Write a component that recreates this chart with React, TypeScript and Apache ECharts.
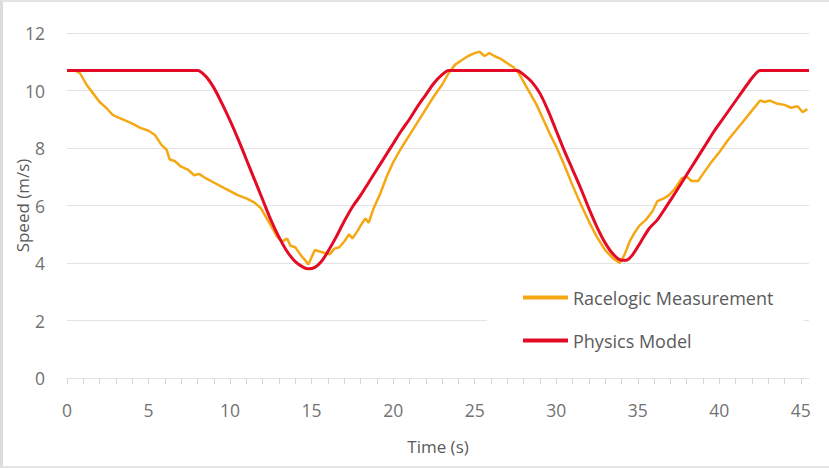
import React, { useEffect, useRef } from "react";
import * as echarts from "echarts";

const seriesNames = ["Racelogic Measurement", "Physics Model"];
const seriesColors = ["#F4A814", "#E30B25"];

const yTicks = [0, 2, 4, 6, 8, 10, 12];
const xTickLabels = [0, 5, 10, 15, 20, 25, 30, 35, 40, 45];

// [time (s), speed (m/s)]
const measurement: [number, number][] = [
  [0, 10.7], [0.5, 10.7], [0.8, 10.6], [1.2, 10.2], [1.6, 9.9], [2.0, 9.6], [2.4, 9.4],
  [2.8, 9.15], [3.2, 9.05], [3.6, 8.95], [4.0, 8.85], [4.5, 8.7], [5.0, 8.6], [5.4, 8.45],
  [5.8, 8.1], [6.1, 7.95], [6.3, 7.6], [6.6, 7.55], [7.0, 7.35], [7.4, 7.25], [7.8, 7.05],
  [8.1, 7.1], [8.5, 6.95], [9.0, 6.8], [9.5, 6.65], [10.0, 6.5], [10.5, 6.35], [11.0, 6.25],
  [11.5, 6.1], [11.9, 5.9], [12.3, 5.5], [12.6, 5.2], [12.9, 4.9], [13.2, 4.75], [13.5, 4.85],
  [13.7, 4.6], [14.0, 4.55], [14.3, 4.3], [14.6, 4.1], [14.8, 3.95], [15.0, 4.2], [15.2, 4.45],
  [15.5, 4.4], [15.8, 4.35], [16.1, 4.3], [16.4, 4.5], [16.7, 4.55], [17.0, 4.75], [17.3, 5.0],
  [17.5, 4.85], [17.8, 5.1], [18.0, 5.3], [18.3, 5.55], [18.5, 5.4], [18.8, 5.9], [19.2, 6.4],
  [19.6, 7.0], [20.0, 7.5], [20.5, 8.0], [21.0, 8.45], [21.5, 8.9], [22.0, 9.35], [22.5, 9.8],
  [23.0, 10.2], [23.4, 10.6], [23.8, 10.9], [24.2, 11.05], [24.6, 11.2], [25.0, 11.3],
  [25.3, 11.35], [25.6, 11.2], [25.9, 11.3], [26.2, 11.2], [26.6, 11.1], [27.0, 10.95],
  [27.4, 10.8], [27.7, 10.6], [28.0, 10.3], [28.4, 9.9], [28.8, 9.5], [29.2, 9.0], [29.6, 8.5],
  [30.0, 8.05], [30.5, 7.4], [31.0, 6.7], [31.5, 6.05], [32.0, 5.45], [32.5, 4.9], [33.0, 4.45],
  [33.5, 4.15], [33.9, 4.0], [34.2, 4.3], [34.5, 4.75], [34.8, 5.05], [35.1, 5.3], [35.5, 5.5],
  [35.9, 5.8], [36.2, 6.15], [36.6, 6.25], [36.9, 6.35], [37.3, 6.6], [37.7, 6.95], [38.0, 7.0],
  [38.3, 6.85], [38.7, 6.85], [39.0, 7.1], [39.5, 7.5], [40.0, 7.85], [40.5, 8.25], [41.0, 8.6],
  [41.5, 8.95], [42.0, 9.3], [42.5, 9.65], [42.8, 9.6], [43.1, 9.65], [43.5, 9.55], [44.0, 9.5],
  [44.4, 9.4], [44.8, 9.45], [45.1, 9.25], [45.4, 9.35],
];

const model: [number, number][] = [
  [0, 10.7], [8.0, 10.7], [8.5, 10.5], [9.0, 10.1], [9.5, 9.55], [10.0, 8.95], [10.5, 8.3],
  [11.0, 7.6], [11.5, 6.9], [12.0, 6.2], [12.5, 5.5], [13.0, 4.9], [13.5, 4.4], [14.0, 4.05],
  [14.5, 3.85], [14.8, 3.8], [15.2, 3.85], [15.6, 4.05], [16.0, 4.4], [16.5, 4.9], [17.0, 5.45],
  [17.5, 5.95], [18.0, 6.35], [18.5, 6.8], [19.0, 7.25], [19.5, 7.7], [20.0, 8.15], [20.5, 8.6],
  [21.0, 9.0], [21.5, 9.45], [22.0, 9.85], [22.5, 10.25], [23.0, 10.55], [23.4, 10.7],
  [27.6, 10.7], [28.0, 10.55], [28.5, 10.3], [29.0, 9.9], [29.5, 9.3], [30.0, 8.6], [30.5, 7.9],
  [31.0, 7.25], [31.5, 6.6], [32.0, 5.9], [32.5, 5.25], [33.0, 4.7], [33.5, 4.3], [34.0, 4.1],
  [34.3, 4.1], [34.7, 4.3], [35.2, 4.75], [35.7, 5.2], [36.2, 5.5], [36.7, 5.92], [37.2, 6.35],
  [37.7, 6.8], [38.2, 7.25], [38.7, 7.7], [39.2, 8.15], [39.7, 8.6], [40.2, 9.0], [40.7, 9.4],
  [41.2, 9.8], [41.7, 10.2], [42.1, 10.5], [42.5, 10.7], [45.5, 10.7],
];

const FONT = "'Open Sans', 'Noto Sans', sans-serif";

export default function App() {
  const ref = useRef<HTMLDivElement>(null);

  useEffect(() => {
    document.body.style.margin = "0";
    if (!ref.current) return;
    const chart = echarts.init(ref.current, undefined, { renderer: "svg" });
    chart.setOption({
      animation: false,
      backgroundColor: "#ffffff",
      grid: { left: 64, right: 20, top: 31, bottom: 88, outerBoundsMode: "none", containLabel: false },
      legend: {
        orient: "vertical",
        left: 484,
        top: 264,
        padding: [22, 30, 24, 36],
        backgroundColor: "#ffffff",
        itemWidth: 45,
        itemHeight: 4,
        itemGap: 24,
        icon: "rect",
        textStyle: { color: "#5a5a5a", fontSize: 18, fontFamily: FONT, lineHeight: 19 },
        data: seriesNames,
      },
      xAxis: {
        type: "value",
        min: 0,
        max: 45.5,
        interval: 1,
        name: "Time (s)",
        nameLocation: "middle",
        nameGap: 60,
        nameMoveOverlap: false,
        nameTextStyle: { color: "#5a5a5a", fontSize: 17, fontFamily: FONT },
        axisLine: { show: true, lineStyle: { color: "#e2e2e2", width: 1 } },
        axisTick: { show: true, length: 6, lineStyle: { color: "#d6d6d6" } },
        axisLabel: {
          color: "#727272",
          fontSize: 17.5,
          fontFamily: FONT,
          margin: 23,
          showMaxLabel: false,
          formatter: (v: number) => (xTickLabels.includes(v) ? String(v) : ""),
        },
        splitLine: { show: false },
      },
      yAxis: {
        type: "value",
        min: yTicks[0],
        max: yTicks[yTicks.length - 1],
        interval: 2,
        name: "Speed (m/s)",
        nameLocation: "middle",
        nameGap: 36,
        nameMoveOverlap: false,
        nameTextStyle: { color: "#5a5a5a", fontSize: 17, fontFamily: FONT },
        axisLine: { show: false },
        axisTick: { show: false },
        axisLabel: { color: "#727272", fontSize: 17.5, fontFamily: FONT, margin: 22 },
        splitLine: { show: true, lineStyle: { color: "#e2e2e2", width: 1 } },
      },
      series: [
        {
          name: seriesNames[0],
          type: "line",
          data: measurement,
          showSymbol: false,
          symbol: "none",
          lineStyle: { color: seriesColors[0], width: 2.5 },
          itemStyle: { color: seriesColors[0] },
          z: 2,
        },
        {
          name: seriesNames[1],
          type: "line",
          data: model,
          showSymbol: false,
          symbol: "none",
          smooth: 0.3,
          lineStyle: { color: seriesColors[1], width: 3 },
          itemStyle: { color: seriesColors[1] },
          z: 3,
        },
      ],
    });
    return () => chart.dispose();
  }, []);

  return (
    <div
      style={{
        position: "fixed",
        left: 0,
        top: 0,
        width: 829,
        height: 468,
        boxSizing: "border-box",
        borderTop: "2px solid #e4e4e4",
        borderLeft: "3px solid #dcdcdc",
        borderBottom: "2px solid #e4e4e4",
        background: "#fff",
      }}
    >
      <div ref={ref} style={{ width: 826, height: 464 }} />
    </div>
  );
}
